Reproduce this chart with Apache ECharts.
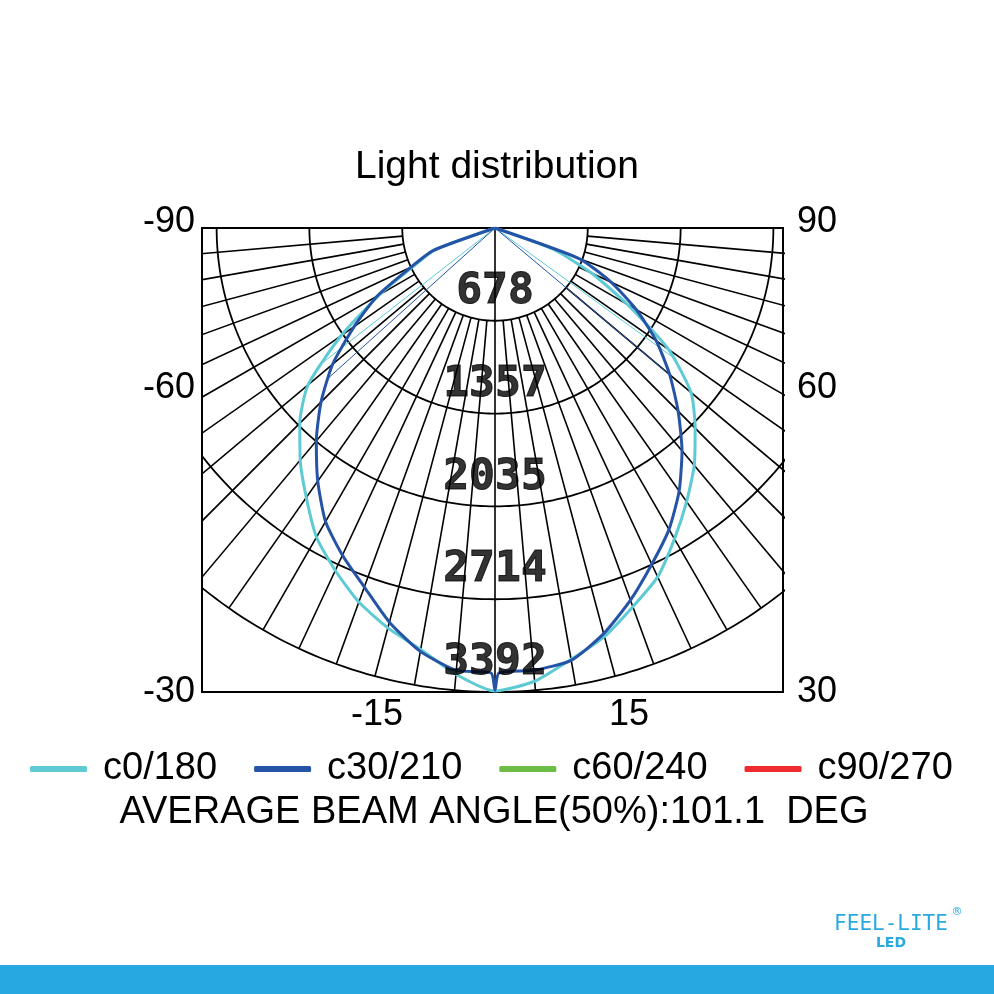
<!DOCTYPE html>
<html>
<head>
<meta charset="utf-8">
<title>Light distribution</title>
<script src="https://cdn.jsdelivr.net/npm/echarts@6/dist/echarts.min.js"></script>
<style>
  html, body { margin: 0; padding: 0; background: #fff; }
  #chart { width: 994px; height: 994px; }
</style>
</head>
<body>
<div id="chart"></div>
<script>
// 光强分布 (cd), 角度从垂直向下算起
var ringValues = [678, 1357, 2035, 2714, 3392]
var ringLabels = ['678', '1357', '2035', '2714', '3392']
var spokeAngles = [-85, -80, -75, -70, -65, -60, -55, -50, -45, -40, -35, -30, -25, -20, -15, -10, -5,
  5, 10, 15, 20, 25, 30, 35, 40, 45, 50, 55, 60, 65, 70, 75, 80, 85]

var seriesNames = ['c0/180', 'c30/210', 'c60/240', 'c90/270']
var seriesColors = ['#5ecad4', '#2553a6', '#6cbd45', '#ee2b2f']

var c0Angles = [-90, -85, -80, -75, -70, -65, -60, -55, -50, -45, -40, -35, -30, -25, -20, -15, -10, -5, 0,
  5, 10, 15, 20, 25, 30, 35, 40, 45, 50, 55, 60, 65, 70, 75, 80, 85, 90]
var c0Values = [0, 0, 0, 0, 468, 651, 972, 1374, 1784, 2018, 2215, 2405, 2610, 2763, 2910, 3026, 3129, 3275, 3385,
  3326, 3202, 3092, 2946, 2814, 2624, 2442, 2266, 2069, 1871, 1550, 1118, 775, 453, 0, 0, 0, 0]

var c30Angles = [-90, -85, -80, -75, -70, -65, -60, -55, -50, -45, -40, -35, -30, -25, -20, -15, -10, -5, -0.5, 0, 0.5,
  5, 10, 15, 20, 25, 30, 35, 40, 45, 50, 55, 60, 65, 70, 75, 80, 85, 90]
var c30Values = [0, 0, 0, 0, 482, 680, 994, 1257, 1550, 1798, 2032, 2259, 2478, 2639, 2793, 2983, 3143, 3246, 3253, 3380, 3253,
  3246, 3209, 3070, 2895, 2712, 2544, 2347, 2127, 1893, 1667, 1440, 1192, 936, 658, 0, 0, 0, 0]

// c60/240, c90/270 没有可见曲线
var c60Angles = []
var c60Values = []
var c90Angles = []
var c90Values = []

// 从中心出发的细线 [角度, 光强]
var thinC0 = [[-52, 1645], [54, 1630]]
var thinC30 = [[-48, 1645], [50, 1650]]

var angleLabels = [
  { text: '-90', x: 195, y: 222, align: 'right' },
  { text: '90', x: 797, y: 222, align: 'left' },
  { text: '-60', x: 195, y: 388, align: 'right' },
  { text: '60', x: 797, y: 388, align: 'left' },
  { text: '-30', x: 195, y: 692, align: 'right' },
  { text: '30', x: 797, y: 692, align: 'left' },
  { text: '-15', x: 377, y: 715, align: 'center' },
  { text: '15', x: 629, y: 715, align: 'center' }
]

var FONT = '"Liberation Sans", Arial, sans-serif'

function toXY(angle, value) {
  var rad = angle * Math.PI / 180
  return [value * Math.sin(rad), value * Math.cos(rad)]
}

function curveData(angles, values) {
  return angles.map(function(a, i) { return toXY(a, values[i]) })
}

// 网格: 圆弧 + 放射线
var arcSteps = []
for (var a = -90; a <= 90; a += 1) arcSteps.push(a)
var ringLines = ringValues.map(function(r) {
  return { coords: arcSteps.map(function(s) { return toXY(s, r) }) }
})
var spokeLines = spokeAngles.map(function(s) {
  return { coords: [toXY(s, ringValues[0]), toXY(s, ringValues[ringValues.length - 1])] }
})
spokeLines.push({ coords: [toXY(0, 0), toXY(0, ringValues[ringValues.length - 1])] })

function thinLines(list) {
  return list.map(function(p) { return { coords: [toXY(0, 0), toXY(p[0], p[1])] } })
}

// 像素 -> 光强 比例: 3392 对应 464px, 中心在 x=495
var K = 3392 / 464

var curves = [
  [c0Angles, c0Values],
  [c30Angles, c30Values],
  [c60Angles, c60Values],
  [c90Angles, c90Values]
]

var series = [
  {
    name: 'rings',
    type: 'lines',
    coordinateSystem: 'cartesian2d',
    polyline: true,
    silent: true,
    clip: true,
    z: 1,
    lineStyle: { color: '#000', width: 1.8, opacity: 1 },
    data: ringLines
  },
  {
    name: 'spokes',
    type: 'lines',
    coordinateSystem: 'cartesian2d',
    silent: true,
    clip: true,
    z: 1,
    lineStyle: { color: '#000', width: 1.6, opacity: 1 },
    data: spokeLines
  },
  {
    name: 'thin0',
    type: 'lines',
    coordinateSystem: 'cartesian2d',
    silent: true,
    z: 2,
    lineStyle: { color: seriesColors[0], width: 1, opacity: 1 },
    data: thinLines(thinC0)
  },
  {
    name: 'thin30',
    type: 'lines',
    coordinateSystem: 'cartesian2d',
    silent: true,
    z: 2,
    lineStyle: { color: seriesColors[1], width: 1, opacity: 1 },
    data: thinLines(thinC30)
  }
]

curves.forEach(function(c, i) {
  series.push({
    name: seriesNames[i],
    type: 'line',
    z: 3,
    showSymbol: false,
    symbol: 'none',
    smooth: 0.2,
    color: seriesColors[i],
    lineStyle: { color: seriesColors[i], width: 3 },
    data: curveData(c[0], c[1])
  })
})

series.push({
  name: 'ringLabels',
  type: 'scatter',
  z: 5,
  silent: true,
  clip: false,
  symbolSize: 0,
  label: {
    show: true,
    position: 'inside',
    offset: [0, -29],
    color: '#000',
    textBorderColor: '#000',
    textBorderWidth: 1,
    fontFamily: '"DejaVu Sans Mono", monospace',
    fontWeight: 'bold',
    fontSize: 43,
    formatter: function(p) { return ringLabels[p.dataIndex] }
  },
  data: ringValues.map(function(r) { return [0, r] })
})

var graphics = angleLabels.map(function(l) {
  return {
    type: 'text',
    x: l.x,
    y: l.y,
    style: {
      text: l.text,
      fill: '#000',
      font: '36px ' + FONT,
      align: l.align,
      verticalAlign: 'middle',
      textAlign: l.align,
      textVerticalAlign: 'middle'
    }
  }
})

graphics.push({
  type: 'text',
  x: 494,
  y: 813,
  style: {
    text: 'AVERAGE BEAM ANGLE(50%):101.1  DEG',
    fill: '#000',
    font: '38px ' + FONT,
    align: 'center', verticalAlign: 'middle',
    textAlign: 'center', textVerticalAlign: 'middle'
  }
})

// logo
graphics.push({
  type: 'text', x: 891, y: 925,
  style: {
    text: 'FEEL-LITE', fill: '#29a9e0', font: '21px "DejaVu Sans Mono", monospace',
    align: 'center', verticalAlign: 'middle', textAlign: 'center', textVerticalAlign: 'middle'
  }
})
graphics.push({
  type: 'text', x: 891, y: 943,
  style: {
    text: 'LED', fill: '#29a9e0', font: 'bold 14px "DejaVu Sans", sans-serif',
    align: 'center', verticalAlign: 'middle', textAlign: 'center', textVerticalAlign: 'middle'
  }
})
graphics.push({
  type: 'text', x: 957, y: 912,
  style: {
    text: '®', fill: '#29a9e0', font: '11px "DejaVu Sans", sans-serif',
    align: 'center', verticalAlign: 'middle', textAlign: 'center', textVerticalAlign: 'middle'
  }
})
graphics.push({
  type: 'rect',
  shape: { x: 0, y: 965, width: 994, height: 29 },
  style: { fill: '#27a8e0' }
})

var option = {
  backgroundColor: '#fff',
  animation: false,
  title: {
    text: 'Light distribution',
    left: 'center',
    top: 143,
    textStyle: { fontFamily: FONT, fontWeight: 'normal', fontSize: 39, color: '#000' }
  },
  legend: {
    data: seriesNames,
    top: 750,
    left: 30,
    padding: 0,
    icon: 'roundRect',
    itemWidth: 57,
    itemHeight: 6,
    itemGap: 37,
    textStyle: { fontFamily: FONT, fontSize: 38, color: '#000', padding: [0, 0, 0, 11] }
  },
  grid: {
    left: 202,
    top: 228,
    width: 581,
    height: 464,
    show: true,
    borderColor: '#000',
    borderWidth: 2
  },
  xAxis: {
    type: 'value',
    min: -293 * K,
    max: 288 * K,
    show: false
  },
  yAxis: {
    type: 'value',
    min: 0,
    max: 3392,
    inverse: true,
    show: false
  },
  graphic: graphics,
  series: series
}

var myChart = echarts.init(document.getElementById('chart'))
myChart.setOption(option)
</script>
</body>
</html>
